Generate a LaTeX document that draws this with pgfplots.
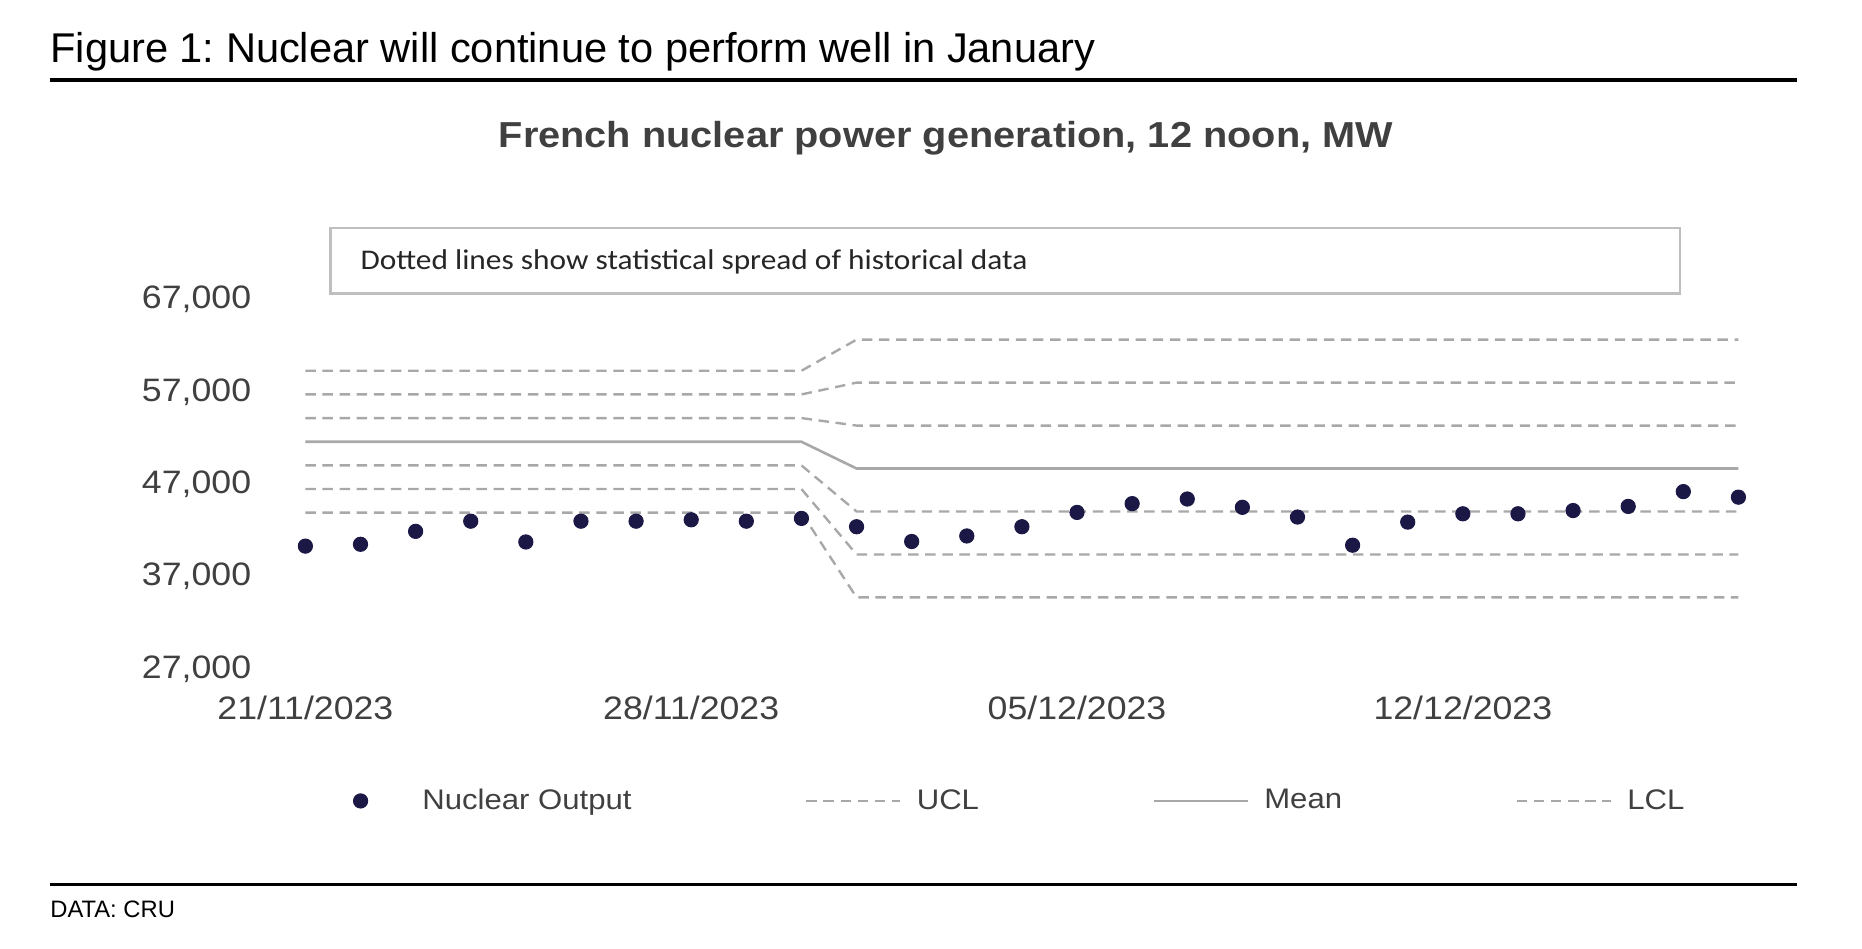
\documentclass[border=0pt]{standalone}
\usepackage{pgfplots}
\pgfplotsset{compat=1.18}
\usepackage{fontspec}
\setmainfont{Liberation Sans}
\newfontfamily\wide[FakeStretch=1.1]{Liberation Sans}
\newfontfamily\calibri[FakeStretch=1.1]{Carlito}
\definecolor{txtgray}{HTML}{404040}
\definecolor{linegray}{HTML}{A8A8A8}
\definecolor{boxgray}{HTML}{BFBFBF}
\definecolor{navy}{HTML}{1C1846}
\frenchspacing

\pgfplotstableread{
x y
0 40300
1 40500
2 41900
3 43000
4 40750
5 43000
6 43000
7 43150
8 43000
9 43300
10 42400
11 40800
12 41400
13 42400
14 43950
15 44900
16 45400
17 44500
18 43450
19 40400
20 42900
21 43800
22 43800
23 44150
24 44600
25 46200
26 45600
}\nuclear

\pgfplotsset{
  dsh/.style={color=linegray, line width=1pt, dash pattern=on 4.4pt off 2.8pt},
  lineleg/.style={legend image code/.code={\draw[##1] (0pt,0pt) -- (39.5pt,0pt); \path[draw=none,fill=none] (0pt,0pt) -- (44.5pt,0pt);}},
  markleg/.style={legend image code/.code={\path[draw=none,fill=none] (0pt,0pt) -- (44.5pt,0pt); \draw[##1] plot coordinates {(20.5pt,0pt)};}},
}

\begin{document}
\begin{tikzpicture}
\begin{axis}[
  scale only axis,
  width=603pt, height=155.5pt,
  at={(128.5pt,-281.5pt)}, anchor=south west,
  xmin=0, xmax=26, ymin=27000, ymax=67000,
  clip=false,
  axis line style={draw=none},
  major tick length=0pt,
  xtick={0,7,14,21},
  xticklabels={21/11/2023,28/11/2023,05/12/2023,12/12/2023},
  ytick={27000,37000,47000,57000,67000},
  scaled y ticks=false,
  /pgf/number format/.cd, 1000 sep={,}, fixed, assume math mode=true,
  /pgfplots/.cd,
  tick label style={font=\wide\fontsize{13.65}{16}\selectfont, text=txtgray},
  yticklabel style={xshift=-19.3pt},
  xticklabel style={yshift=-8pt},
  legend columns=4,
  legend style={at={(rel axis cs:0.0042,-0.357)}, anchor=west, draw=none, fill=none,
    inner sep=0pt, font=\wide\fontsize{11.9}{14}\selectfont, text=txtgray,
    /tikz/every even column/.append style={column sep=71pt}},
]
\addplot[dsh, forget plot] coordinates {(0,59280) (9,59280) (10,62650) (26,62650)};
\addplot[dsh, forget plot] coordinates {(0,56720) (9,56720) (10,58000) (26,58000)};
\addplot[dsh, forget plot] coordinates {(0,54160) (9,54160) (10,53350) (26,53350)};
\addplot[color=linegray, line width=1.1pt, forget plot] coordinates {(0,51600) (9,51600) (10,48700) (26,48700)};
\addplot[dsh, forget plot] coordinates {(0,49040) (9,49040) (10,44050) (26,44050)};
\addplot[dsh, forget plot] coordinates {(0,46480) (9,46480) (10,39400) (26,39400)};
\addplot[dsh, forget plot] coordinates {(0,43920) (9,43920) (10,34750) (26,34750)};
\addplot[only marks, mark=*, mark size=3pt, color=navy, forget plot] table[x=x,y=y] {\nuclear};

\addlegendimage{only marks, mark=*, mark size=3pt, color=navy, markleg}
\addlegendentry{Nuclear Output}
\addlegendimage{dsh, lineleg}
\addlegendentry{UCL}
\addlegendimage{color=linegray, line width=1.1pt, lineleg}
\addlegendentry{Mean}
\addlegendimage{dsh, lineleg}
\addlegendentry{LCL}
\end{axis}

\begin{scope}[x=0.5pt, y=-0.5pt]
\node[anchor=base west, inner sep=0pt, font=\fontsize{17.5}{20}\selectfont] at (42,53) {Figure 1: Nuclear will continue to perform well in January};
\draw[line width=1.5pt, black] (42,67.5) -- (1512,67.5);
\node[anchor=base, inner sep=0pt, font=\wide\bfseries\fontsize{15.2}{17}\selectfont, text=txtgray] at (796,124) {French nuclear power generation, 12 noon, MW};
\draw[boxgray, line width=1pt] (278,192) rectangle (1414,247);
\node[anchor=base west, inner sep=0pt, font=\calibri\fontsize{12}{14}\selectfont, text=black!85] at (303,227) {Dotted lines show statistical spread of historical data};
\draw[line width=1.5pt, black] (42,744.5) -- (1512,744.5);
\node[anchor=base west, inner sep=0pt, font=\fontsize{10}{12}\selectfont] at (42,772) {DATA: CRU};
\pgfresetboundingbox
\path[use as bounding box] (0,0) rectangle (1567,798.6);
\end{scope}
\end{tikzpicture}
\end{document}
